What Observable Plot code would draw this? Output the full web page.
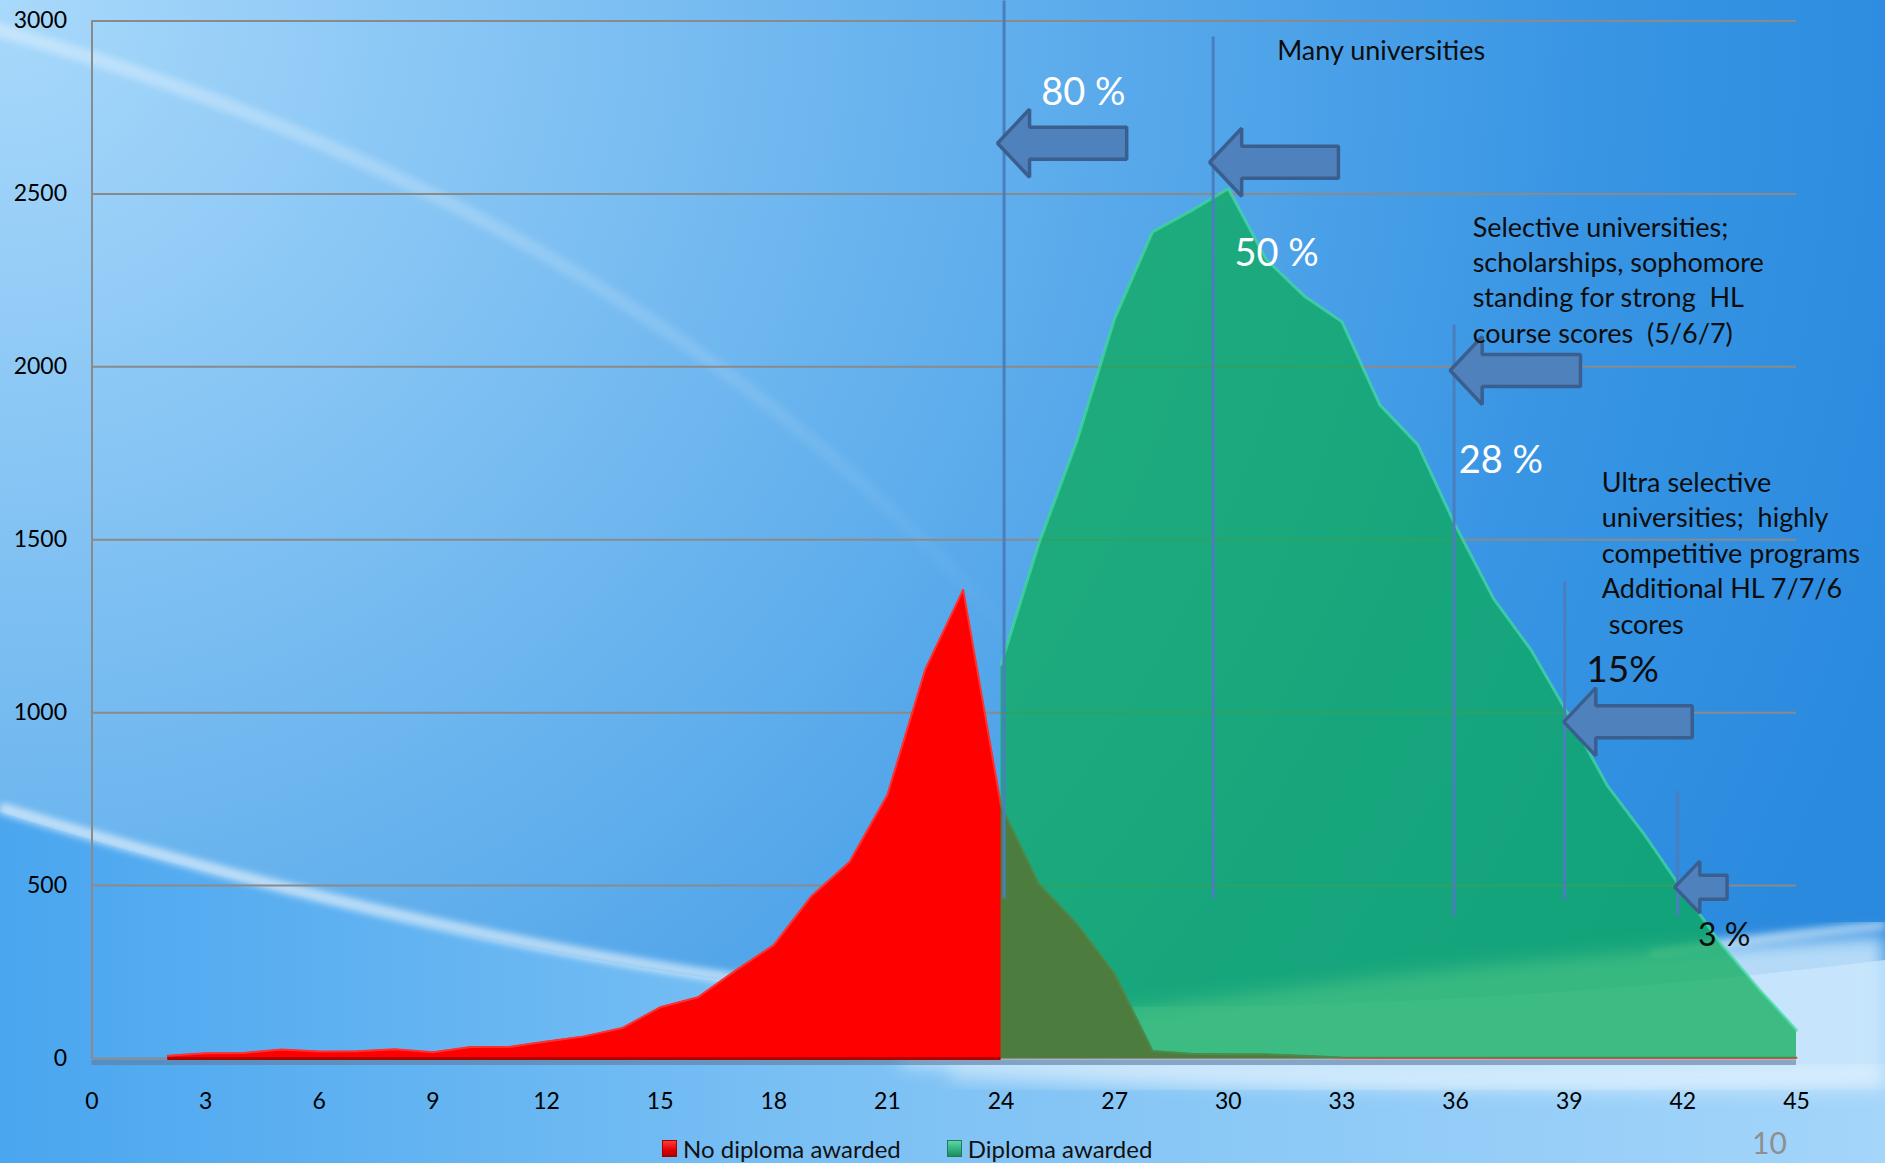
<!DOCTYPE html>
<html>
<head>
<meta charset="utf-8">
<script src="https://cdn.jsdelivr.net/npm/d3@7"></script>
<script src="https://cdn.jsdelivr.net/npm/@observablehq/plot@0.6"></script>
<style>
  html, body { margin: 0; padding: 0; }
  body { width: 1885px; height: 1163px; overflow: hidden; font-family: Lato, "Open Sans", sans-serif; }
  #stage { position: relative; width: 1885px; height: 1163px; overflow: hidden; }
  #bg { position: absolute; left: 0; top: 0; }
  #chart { position: absolute; left: 0; top: 0; }
  #legend { position: absolute; top: 1134px; left: 662px; display: flex; align-items: center; font-size: 24px; color: #111; white-space: nowrap; }
  #legend .item { display: flex; align-items: center; margin-right: 46px; }
  #legend .sw { width: 15px; height: 17px; margin-right: 6px; box-sizing: border-box; }
  #page { position: absolute; left: 1752px; top: 1124px; font-size: 30px; color: #8f8f8f; }
</style>
</head>
<body>
<div id="stage">
  <svg id="bg" width="1885" height="1163" viewBox="0 0 1885 1163">
    <defs>
      <radialGradient id="base" cx="0" cy="0" r="2000" gradientUnits="userSpaceOnUse">
        <stop offset="0" stop-color="#a9d9fb"/>
        <stop offset="0.45" stop-color="#68b3ee"/>
        <stop offset="0.8" stop-color="#3895e4"/>
        <stop offset="1" stop-color="#2a8ade"/>
      </radialGradient>
      <linearGradient id="low" x1="0" y1="0" x2="1885" y2="0" gradientUnits="userSpaceOnUse">
        <stop offset="0" stop-color="#4aa6ef"/>
        <stop offset="0.45" stop-color="#7cc1f4"/>
        <stop offset="1" stop-color="#a4d5fa"/>
      </linearGradient>
      <linearGradient id="sw" x1="0" y1="0" x2="1050" y2="650" gradientUnits="userSpaceOnUse">
        <stop offset="0" stop-color="#ffffff" stop-opacity="0.35"/>
        <stop offset="0.5" stop-color="#ffffff" stop-opacity="0.16"/>
        <stop offset="1" stop-color="#ffffff" stop-opacity="0"/>
      </linearGradient>
      <filter id="blur" x="-10%" y="-80%" width="120%" height="260%"><feGaussianBlur stdDeviation="9"/></filter>
      <filter id="blur2"><feGaussianBlur stdDeviation="3"/></filter>
    </defs>
    <rect x="0" y="0" width="1885" height="1163" fill="url(#base)"/>
    <path d="M -30 22 Q 700 220 1080 720" fill="none" stroke="url(#sw)" stroke-width="14" filter="url(#blur2)"/>
    <path d="M 0 812 C 300 905, 560 960, 760 985 C 1000 1015, 1400 1020, 1885 960 L 1885 1163 L 0 1163 Z" fill="url(#low)"/>
    <path d="M 900 1045 Q 1400 960 1885 935 L 1885 1090 Q 1400 1100 900 1065 Z" fill="#cde9fd" fill-opacity="0.85" filter="url(#blur)"/>
    <path d="M 950 1072 Q 1400 1090 1885 1075" fill="none" stroke="#ffffff" stroke-opacity="0.35" stroke-width="18" filter="url(#blur)"/>
    <path d="M 1650 955 Q 1780 935 1885 925" fill="none" stroke="#ffffff" stroke-opacity="0.45" stroke-width="10" filter="url(#blur2)"/>
    <path d="M 0 808 C 300 900, 560 955, 760 982" fill="none" stroke="#ffffff" stroke-opacity="0.55" stroke-width="12" filter="url(#blur2)"/>
  </svg>
  <div id="chart"></div>
  <div id="legend"></div>
  <div id="page">10</div>
</div>
<script>
// ---- data ----
const noDiplomaScores = [2,3,4,5,6,7,8,9,10,11,12,13,14,15,16,17,18,19,20,21,22,23,24,25,26,27,28,29,30,31,32,33,34,35,36,37,38,39,40,41,42,43,44,45];
const noDiplomaCounts = [8,15,16,26,20,21,27,18,33,33,49,64,88,148,177,255,328,470,568,762,1125,1355,730,505,390,245,22,14,12,12,8,3,2,2,2,2,2,2,2,2,2,2,2,2];
const diplomaScores = [24,25,26,27,28,29,30,31,32,33,34,35,36,37,38,39,40,41,42,43,44,45];
const diplomaCounts = [1140,1490,1785,2140,2390,2450,2515,2310,2205,2130,1890,1775,1540,1330,1180,990,790,645,485,332,202,82];

const seriesNames = ["No diploma awarded", "Diploma awarded"];
const xTicks = [0,3,6,9,12,15,18,21,24,27,30,33,36,39,42,45];
const yTicks = [0,500,1000,1500,2000,2500,3000];

// threshold rules (score, from count, to count)
const ruleScores = [24.08, 29.6, 35.96, 38.88, 41.86];
const ruleFrom = [462, 462, 413, 457, 413];
const ruleTo = [3058, 2954, 2120, 1378, 773];

// block arrows (tip score, tail score, count level, small?)
const arrowTip = [23.92, 29.52, 35.87, 38.87, 41.8];
const arrowTail = [27.33, 32.92, 39.31, 42.26, 43.18];
const arrowLevel = [2645, 2590, 1988, 972, 494];
const arrowSmall = [false, false, false, false, true];

// annotations
const noteText = [
  "80 %",
  "Many universities",
  "50 %",
  "Selective universities;\nscholarships, sophomore\nstanding for strong \u00a0HL\ncourse scores \u00a0(5/6/7)",
  "28 %",
  "Ultra selective\nuniversities; \u00a0highly\ncompetitive programs\nAdditional HL 7/7/6\n\u00a0scores",
  "15%",
  "3 %"
];
const noteScore = [25.06, 31.29, 30.16, 36.45, 36.08, 39.86, 39.45, 42.4];
const noteCount = [2802, 2920, 2339, 2256, 1738, 1466, 1134, 363];
const noteKind = ["pctWhite", "note", "pctWhite", "note", "pctWhite", "note", "pctBig", "pctSmall"];

// ---- layout ----
const W = 1885, H = 1125;
const mL = 91.5, mR = 89, mT = 20.5, mB = H - 1058;
const pxPerScore = (W - mL - mR) / 45;
const pxPerCount = (H - mT - mB) / 3000;

const red = noDiplomaScores.map((s, i) => ({s, v: noDiplomaCounts[i]}));
const green = diplomaScores.map((s, i) => ({s, v: diplomaCounts[i]}));
const rules = ruleScores.map((s, i) => ({s, a: ruleFrom[i], b: ruleTo[i]}));

const arrowRows = [];
arrowTip.forEach((tip, i) => {
  const hl = (arrowSmall[i] ? 25 : 32) / pxPerScore;
  const bh = (arrowSmall[i] ? 12 : 16) / pxPerCount;
  const hh = (arrowSmall[i] ? 26 : 34) / pxPerCount;
  const y = arrowLevel[i];
  arrowRows.push({id: i, x: tip, y1: y, y2: y});
  arrowRows.push({id: i, x: tip + hl, y1: y - hh, y2: y + hh});
  arrowRows.push({id: i, x: tip + hl, y1: y - bh, y2: y + bh});
  arrowRows.push({id: i, x: arrowTail[i], y1: y - bh, y2: y + bh});
});

const notes = noteText.map((t, i) => ({t, s: noteScore[i], v: noteCount[i], k: noteKind[i]}));
const noteStyle = {
  pctWhite: {fill: "#ffffff", fontSize: 38},
  note: {fill: "#0d0d0d", fontSize: 27},
  pctBig: {fill: "#0d0d0d", fontSize: 37},
  pctSmall: {fill: "#0d0d0d", fontSize: 32}
};
const noteMarks = Object.keys(noteStyle).map(k => Plot.text(notes.filter(d => d.k === k), {
  x: "s", y: "v", text: "t", textAnchor: "start", lineAnchor: "middle", lineHeight: 1.31,
  fill: noteStyle[k].fill, fontSize: noteStyle[k].fontSize, fontFamily: "Lato"
}));

const chart = Plot.plot({
  width: W, height: H,
  marginLeft: mL, marginRight: mR, marginTop: mT, marginBottom: mB,
  style: {background: "transparent", fontFamily: "Lato, sans-serif", overflow: "visible"},
  x: {domain: [0, 45]},
  y: {domain: [0, 3000]},
  marks: [
    Plot.ruleY(yTicks, {stroke: "#8a8a8a", strokeWidth: 2}),
    Plot.ruleX([0], {y1: 0, y2: 3000, stroke: "#8a8a8a", strokeWidth: 2}),
    Plot.ruleY([0], {stroke: "#5b7c9e", strokeWidth: 5, dy: 4, strokeOpacity: 0.6}),
    Plot.areaY(red, {x: "s", y1: 0, y2: "v", fill: "#ff0000", curve: "linear"}),
    Plot.lineY(red, {x: "s", y: "v", stroke: "#ff3030", strokeWidth: 2}),
    Plot.ruleY([0], {x1: 2, x2: 24, stroke: "#b00000", strokeWidth: 3}),
    Plot.areaY(green, {x: "s", y1: 0, y2: "v", fill: "#0aac55", fillOpacity: 0.73, curve: "linear"}),
    Plot.lineY(green, {x: "s", y: "v", stroke: "#45dca2", strokeWidth: 3, strokeOpacity: 0.7}),
    Plot.ruleX(rules, {x: "s", y1: "a", y2: "b", stroke: "#4a7ebd", strokeWidth: 3}),
    Plot.areaY(arrowRows, {x: "x", y1: "y1", y2: "y2", z: "id", fill: "#4f81bd", stroke: "#3a5f8e", strokeWidth: 3.5, strokeLinejoin: "miter", curve: "linear"}),
    ...noteMarks,
    Plot.axisY({ticks: yTicks, tickFormat: d => String(d), tickSize: 0, tickPadding: 25, fontSize: 23, fill: "#000", label: null}),
    Plot.axisX({ticks: xTicks, tickFormat: d => String(d), tickSize: 0, tickPadding: 34, fontSize: 23, fill: "#000", label: null})
  ]
});
document.getElementById("chart").appendChild(chart);

// legend
const legendColors = ["linear-gradient(180deg,#ff3a3a,#e00000 60%,#b00000)", "linear-gradient(180deg,#5fd4a6,#2fae7c 60%,#1f8a60)"];
const legendBorders = ["#a00000", "#1d7d58"];
const legend = document.getElementById("legend");
seriesNames.forEach((name, i) => {
  const item = document.createElement("div");
  item.className = "item";
  const sw = document.createElement("span");
  sw.className = "sw";
  sw.style.background = legendColors[i];
  sw.style.border = "1px solid " + legendBorders[i];
  const label = document.createElement("span");
  label.textContent = name;
  item.appendChild(sw);
  item.appendChild(label);
  legend.appendChild(item);
});
</script>
</body>
</html>
